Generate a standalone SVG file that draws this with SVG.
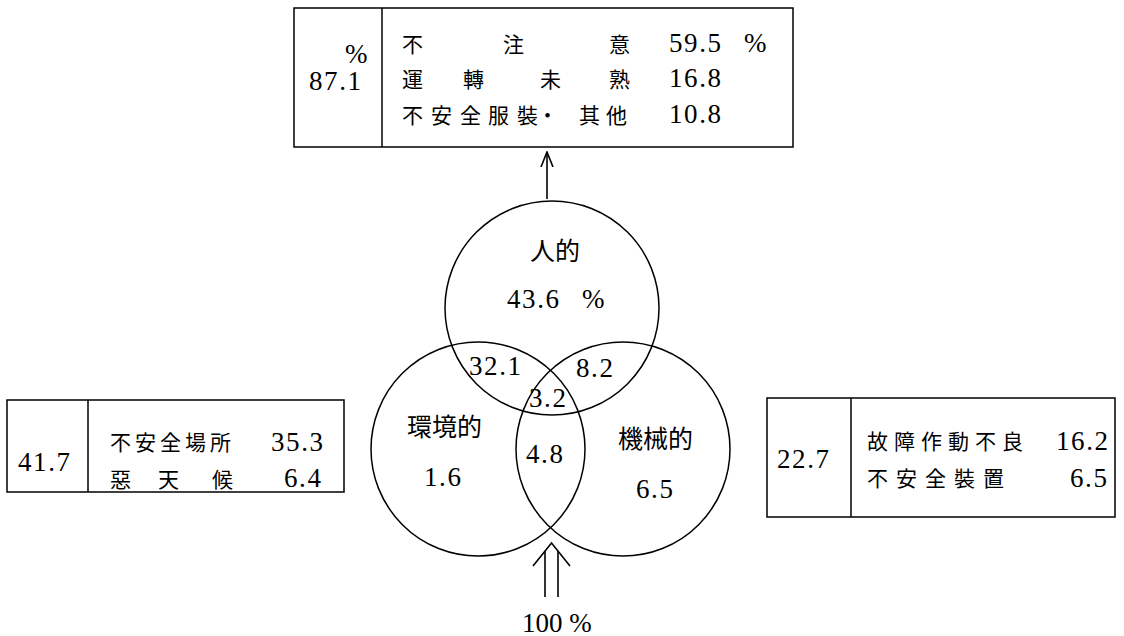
<svg xmlns="http://www.w3.org/2000/svg" width="1124" height="636" viewBox="0 0 1124 636">
<style>
  .frame { fill: none; stroke: #000; stroke-width: 1.5; }
  .ring { fill: none; stroke: #000; stroke-width: 1.5; }
  .line { fill: none; stroke: #000; stroke-width: 1.6; }
  .cjk { font-family: "Noto Sans CJK JP", "Noto Sans CJK TC", sans-serif; font-size: 21px; fill: #000; }
  .cjk-l { font-family: "Noto Sans CJK JP", "Noto Sans CJK TC", sans-serif; font-size: 25px; fill: #000; }
  .num { font-family: "Liberation Serif", serif; font-size: 27px; letter-spacing: 1.6px; fill: #000; }
  .pct { font-family: "Liberation Serif", serif; font-size: 27px; fill: #000; }
</style>
<defs>
  <marker id="openHead" viewBox="0 0 16 14" refX="15" refY="7" markerWidth="16" markerHeight="14" markerUnits="userSpaceOnUse" orient="auto">
    <path d="M0,1 L15,7 L0,13" fill="none" stroke="#000" stroke-width="1.6"/>
  </marker>
</defs>
<rect width="1124" height="636" fill="#fff"/>

<!-- Human factor detail box -->
<g id="box-human">
  <rect class="frame" x="294" y="8" width="499" height="139"/>
  <line class="frame" x1="382" y1="8" x2="382" y2="147"/>
  <text class="pct" x="345" y="63">%</text>
  <text class="num" x="309" y="90">87.1</text>
  <text class="cjk" x="402 503 609" y="52">不注意</text>
  <text class="num" x="669" y="52">59.5 <tspan x="744">%</tspan></text>
  <text class="cjk" x="402 463 540 609" y="87">運轉未熟</text>
  <text class="num" x="669" y="87">16.8</text>
  <text class="cjk" x="402 431 460 488 517 537 579 606" y="123">不安全服裝・其他</text>
  <text class="num" x="669" y="123">10.8</text>
</g>

<!-- Environment factor detail box -->
<g id="box-env">
  <rect class="frame" x="7" y="400" width="337" height="92"/>
  <line class="frame" x1="88" y1="400" x2="88" y2="492"/>
  <text class="num" x="18" y="471">41.7</text>
  <text class="cjk" x="110 135 160 185 210" y="450">不安全場所</text>
  <text class="num" x="271" y="451">35.3</text>
  <text class="cjk" x="110 158 212" y="487">惡天候</text>
  <text class="num" x="284" y="487">6.4</text>
</g>

<!-- Machine factor detail box -->
<g id="box-machine">
  <rect class="frame" x="767" y="398" width="348" height="119"/>
  <line class="frame" x1="851" y1="398" x2="851" y2="517"/>
  <text class="num" x="777" y="468">22.7</text>
  <text class="cjk" x="867 894 921 948 975 1002" y="449">故障作動不良</text>
  <text class="num" x="1056" y="450">16.2</text>
  <text class="cjk" x="867 896 925 954 983" y="486">不安全裝置</text>
  <text class="num" x="1070" y="487">6.5</text>
</g>

<!-- Venn circles -->
<g id="circle-human">
  <circle class="ring" cx="552" cy="308" r="107"/>
  <text class="cjk-l" x="530" y="260">人的</text>
  <text class="num" x="507" y="308">43.6 <tspan x="582">%</tspan></text>
</g>
<g id="circle-env">
  <circle class="ring" cx="478" cy="449" r="107"/>
  <text class="cjk-l" x="407" y="436">環境的</text>
  <text class="num" x="424" y="486">1.6</text>
</g>
<g id="circle-machine">
  <circle class="ring" cx="623" cy="449" r="107"/>
  <text class="cjk-l" x="618" y="448">機械的</text>
  <text class="num" x="636" y="498">6.5</text>
</g>
<g id="overlaps">
  <text class="num" x="469" y="375">32.1</text>
  <text class="num" x="576" y="377">8.2</text>
  <text class="num" x="529" y="407">3.2</text>
  <text class="num" x="526" y="463">4.8</text>
</g>

<!-- Connectors -->
<g id="connectors">
  <line class="line" x1="547" y1="199" x2="547" y2="152" marker-end="url(#openHead)"/>
  <g id="input-arrow">
    <line class="line" x1="545" y1="597" x2="545" y2="551"/>
    <line class="line" x1="558" y1="597" x2="558" y2="551"/>
    <path class="line" d="M533,566 L551.5,543 L570,566"/>
  </g>
</g>

<g id="total-label">
  <text class="pct" x="522" y="632">100 %</text>
</g>
</svg>
